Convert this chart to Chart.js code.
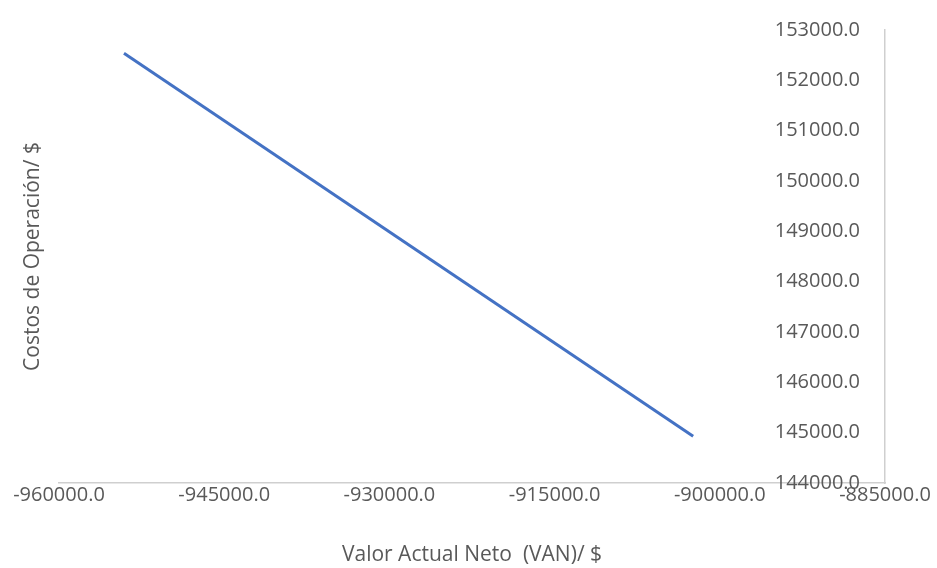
<!DOCTYPE html>
<html>
<head>
<meta charset="utf-8">
<script src="https://cdn.jsdelivr.net/npm/chart.js@4/dist/chart.umd.min.js"></script>
<style>
  html, body { margin: 0; padding: 0; background: #ffffff; }
  #wrap { width: 937px; height: 568px; position: relative; }
</style>
</head>
<body>
<div id="wrap"><canvas id="c" width="937" height="568"></canvas></div>
<script>
// Valor Actual Neto (VAN) vs. costos de operación
const vanValues = [-954100, -902420];
const costValues = [152540, 144930];

const xTickValues = [-960000, -945000, -930000, -915000, -900000, -885000];
const yTickValues = [144000, 145000, 146000, 147000, 148000, 149000, 150000, 151000, 152000, 153000];

const xTitle = 'Valor Actual Neto  (VAN)/ $';
const yTitle = 'Costos de Operación/ $';

const points = vanValues.map((v, i) => ({ x: v, y: costValues[i] }));

const textColor = '#595959';
const axisColor = '#cfcfcf';
const fontFamily = '"Open Sans", Lato, sans-serif';

const fixedTicks = (values) => (scale) => {
  scale.ticks = values.map(v => ({ value: v }));
};

new Chart(document.getElementById('c'), {
  type: 'scatter',
  data: {
    datasets: [{
      data: points,
      showLine: true,
      borderColor: '#4472C4',
      backgroundColor: '#4472C4',
      borderWidth: 3,
      pointRadius: 0,
      tension: 0
    }]
  },
  options: {
    responsive: false,
    animation: false,
    layout: { padding: { top: 30, left: 0, right: 0, bottom: 0 } },
    plugins: { legend: { display: false }, tooltip: { enabled: false } },
    scales: {
      x: {
        type: 'linear',
        position: 'bottom',
        min: xTickValues[0],
        max: xTickValues[xTickValues.length - 1],
        afterBuildTicks: fixedTicks(xTickValues),
        grid: { display: false, drawTicks: false },
        border: { display: true, color: axisColor, width: 1.5 },
        ticks: {
          color: textColor,
          font: { family: fontFamily, size: 20 },
          padding: 0,
          maxRotation: 0,
          autoSkip: false,
          callback: v => Number(v).toFixed(1)
        },
        title: {
          display: true,
          text: xTitle,
          color: textColor,
          font: { family: fontFamily, size: 21 },
          padding: { top: 16, bottom: 0 }
        },
        afterFit: s => { s.height = 85; }
      },
      y: {
        type: 'linear',
        position: 'right',
        min: yTickValues[0],
        max: yTickValues[yTickValues.length - 1],
        afterBuildTicks: fixedTicks(yTickValues),
        grid: { display: false, drawTicks: false },
        border: { display: true, color: axisColor, width: 1.5 },
        ticks: {
          mirror: true,
          color: textColor,
          font: { family: fontFamily, size: 20 },
          padding: -25,
          autoSkip: false,
          callback: v => Number(v).toFixed(1)
        },
        afterFit: s => { s.width = 52; }
      },
      yTitleAxis: {
        type: 'linear',
        position: 'left',
        display: true,
        grid: { display: false, drawTicks: false },
        border: { display: false },
        ticks: { display: false },
        title: {
          display: true,
          text: yTitle,
          color: textColor,
          font: { family: fontFamily, size: 21 },
          padding: { top: 20, bottom: 0 }
        },
        afterFit: s => { s.width = 59; }
      }
    }
  }
});
</script>
</body>
</html>
